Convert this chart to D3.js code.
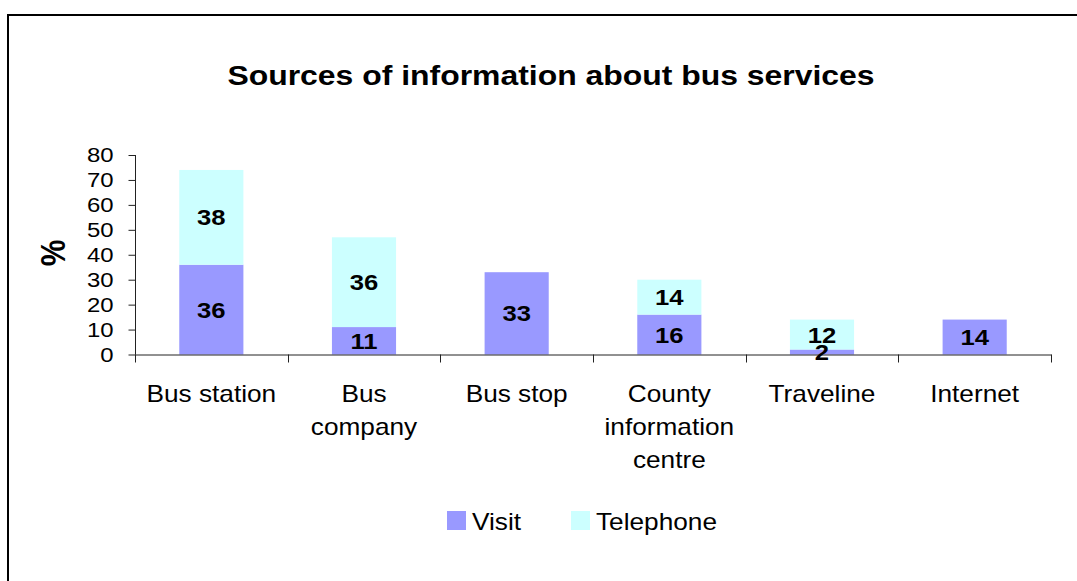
<!DOCTYPE html>
<html>
<head>
<meta charset="utf-8">
<script src="https://cdn.jsdelivr.net/npm/d3@7"></script>
<style>
  html, body { margin: 0; padding: 0; background: #fff; }
  svg { display: block; font-family: "Liberation Sans", Arial, sans-serif; }
</style>
</head>
<body>
<svg id="chart" width="1077" height="581"></svg>
<script>
// Chart data
const categories = ["Bus station", "Bus company", "Bus stop", "County information centre", "Traveline", "Internet"];
const categoryLines = [["Bus station"], ["Bus", "company"], ["Bus stop"], ["County", "information", "centre"], ["Traveline"], ["Internet"]];
const visit = [36, 11, 33, 16, 2, 14];
const telephone = [38, 36, 0, 14, 12, 0];
const seriesNames = ["Visit", "Telephone"];
const yTicks = [0, 10, 20, 30, 40, 50, 60, 70, 80];

const colors = { Visit: "#9999FF", Telephone: "#CCFFFF" };
const SX = 1.14; // horizontal text stretch

const svg = d3.select("#chart");

// Outer frame
svg.append("rect")
  .attr("x", 8).attr("y", 15).attr("width", 1100).attr("height", 600)
  .attr("fill", "none").attr("stroke", "#000").attr("stroke-width", 2);

// Title
svg.append("text")
  .attr("transform", `translate(551,84.5) scale(${SX},1)`)
  .attr("text-anchor", "middle")
  .attr("font-size", 28).attr("font-weight", "bold")
  .text("Sources of information about bus services");

const plotLeft = 135, plotRight = 1051, plotTop = 155, plotBottom = 354.5;

const x = d3.scaleBand().domain(categories).range([plotLeft, plotRight])
  .paddingInner(0.58).paddingOuter(0.29);
const y = d3.scaleLinear().domain([0, 80]).range([plotBottom, plotTop]);

// Stacked data
const rows = categories.map((c, i) => ({ cat: c, Visit: visit[i], Telephone: telephone[i] }));
const stacked = d3.stack().keys(seriesNames)(rows);

// Bars
const layers = svg.append("g").selectAll("g").data(stacked).join("g")
  .attr("fill", d => colors[d.key]);
layers.selectAll("rect").data(d => d.filter(p => p[1] > p[0])).join("rect")
  .attr("x", d => x(d.data.cat))
  .attr("y", d => y(d[1]))
  .attr("width", x.bandwidth())
  .attr("height", d => y(d[0]) - y(d[1]));

// Y axis
const yAxis = svg.append("g")
  .attr("transform", `translate(${plotLeft + 0.5},0)`)
  .call(d3.axisLeft(y).tickValues(yTicks).tickSize(7).tickPadding(15).tickSizeOuter(0));
yAxis.select(".domain").attr("stroke", "#222").attr("d", `M0,${plotTop}V${plotBottom}`);
yAxis.selectAll(".tick line").attr("stroke", "#222");
yAxis.selectAll(".tick text")
  .attr("font-size", 21).attr("fill", "#000")
  .attr("font-family", "Liberation Sans, Arial, sans-serif")
  .attr("x", -22 / SX)
  .attr("transform", `scale(${SX},1)`);

// X axis line with boundary ticks
const step = x.step();
const x0 = x(categories[0]) - (step - x.bandwidth()) / 2;
const bounds = d3.range(categories.length + 1).map(i => x0 + i * step);
const xAxis = svg.append("g").attr("stroke", "#222");
xAxis.append("line").attr("x1", plotLeft).attr("x2", bounds[bounds.length - 1] + 0.5)
  .attr("y1", plotBottom + 0.5).attr("y2", plotBottom + 0.5);
xAxis.selectAll("line.tk").data(bounds).join("line").attr("class", "tk")
  .attr("x1", d => Math.round(d) + 0.5).attr("x2", d => Math.round(d) + 0.5)
  .attr("y1", plotBottom).attr("y2", plotBottom + 8);

// Category labels
const catG = svg.append("g");
categories.forEach((c, i) => {
  const cx = x(c) + x.bandwidth() / 2;
  categoryLines[i].forEach((line, j) => {
    catG.append("text")
      .attr("transform", `translate(${cx},${401.7 + j * 33}) scale(${SX},1)`)
      .attr("text-anchor", "middle")
      .attr("font-size", 23)
      .text(line);
  });
});

// Value labels inside segments
const labelG = svg.append("g");
stacked.forEach(layer => {
  layer.forEach(p => {
    const v = p[1] - p[0];
    if (v <= 0) return;
    const cx = x(p.data.cat) + x.bandwidth() / 2;
    const cy = (y(p[0]) + y(p[1])) / 2;
    labelG.append("text")
      .attr("transform", `translate(${cx},${cy}) scale(${SX},1)`)
      .attr("text-anchor", "middle")
      .attr("dy", "0.36em")
      .attr("font-size", 22.5).attr("font-weight", "bold")
      .text(v);
  });
});

// Y axis title
svg.append("text")
  .attr("transform", `translate(65,253) scale(${SX},1) rotate(-90)`)
  .attr("text-anchor", "middle")
  .attr("font-size", 30).attr("font-weight", "bold")
  .text("%");

// Legend
const legendPos = [447, 571];
const legend = svg.append("g");
seriesNames.forEach((name, i) => {
  legend.append("rect")
    .attr("x", legendPos[i]).attr("y", 511).attr("width", 19).attr("height", 19)
    .attr("fill", colors[name]);
  legend.append("text")
    .attr("transform", `translate(${legendPos[i] + 25},530) scale(${SX},1)`)
    .attr("font-size", 23)
    .text(name);
});
</script>
</body>
</html>
